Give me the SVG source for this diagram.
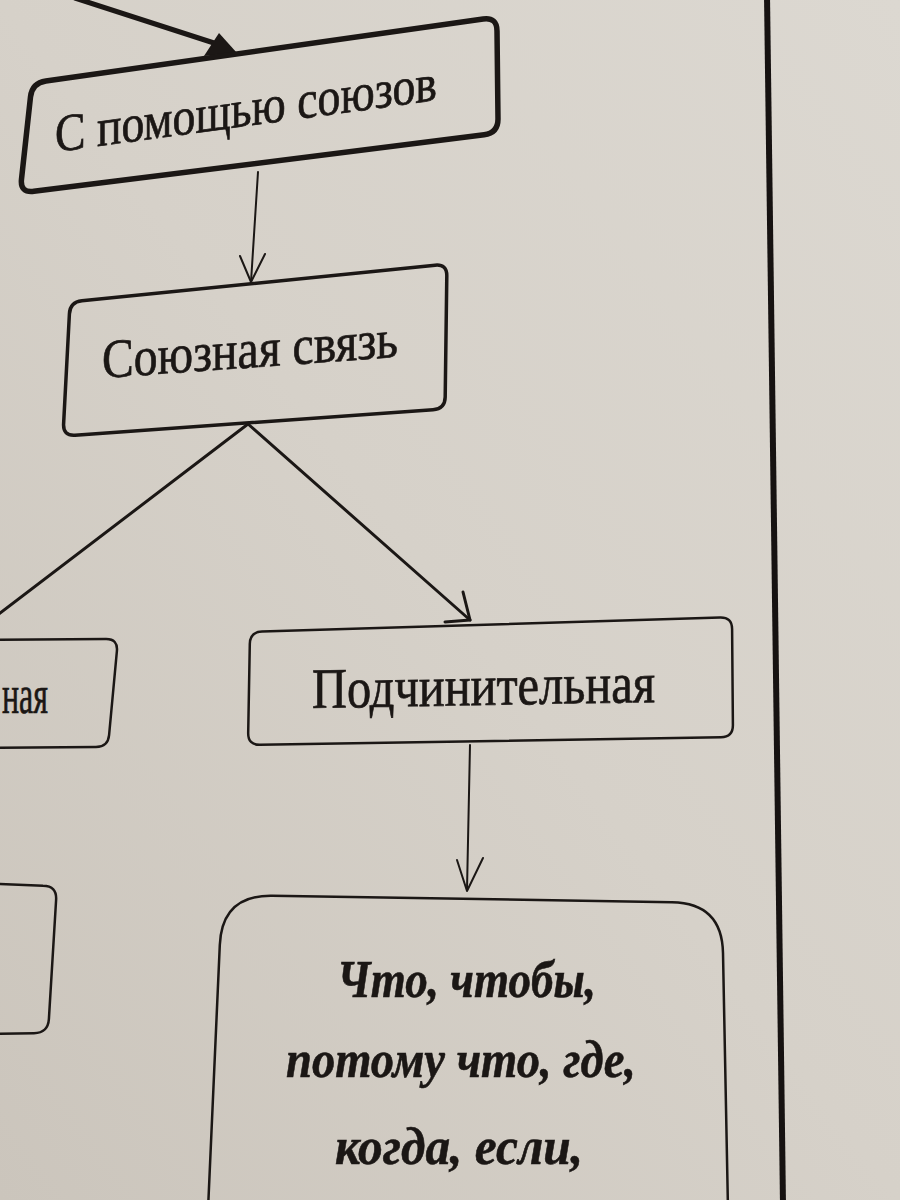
<svg xmlns="http://www.w3.org/2000/svg" width="900" height="1200" viewBox="0 0 900 1200">
  <defs>
    <linearGradient id="paper" x1="1" y1="0" x2="0" y2="1">
      <stop offset="0" stop-color="#dcd8d1"/>
      <stop offset="0.5" stop-color="#d6d1c9"/>
      <stop offset="1" stop-color="#cbc5bc"/>
    </linearGradient>
    <style>
      .box { fill: none; stroke: #1b1715; stroke-linejoin: round; }
      .lbl { font-family: "Liberation Serif", "Times New Roman", serif; fill: #1b1715; stroke: #1b1715; stroke-width: 0.7px; }
      .em { font-family: "Liberation Serif", "Times New Roman", serif; font-weight: bold; font-style: italic; fill: #1b1715; stroke: #1b1715; stroke-width: 0.6px; font-size: 53px; }
      .wire { fill: none; stroke: #1b1715; stroke-linecap: round; stroke-linejoin: round; }
    </style>
  </defs>

  <rect x="0" y="0" width="900" height="1200" fill="url(#paper)"/>

  <!-- page frame rule -->
  <line x1="767" y1="-5" x2="783" y2="1205" stroke="#161211" stroke-width="6"/>

  <g id="connectors">
    <line class="wire" x1="75" y1="-2" x2="214" y2="43" stroke-width="5"/>
    <polygon points="219,33 237,53 204,56" fill="#1b1715"/>

    <line class="wire" x1="258" y1="172" x2="251" y2="282" stroke-width="2"/>
    <polyline class="wire" points="240,256 251,282 265,254" stroke-width="2"/>

    <line class="wire" x1="248" y1="424" x2="-5" y2="617" stroke-width="3"/>

    <line class="wire" x1="248" y1="424" x2="470" y2="620" stroke-width="3"/>
    <polyline class="wire" points="445,622 470,620 463,592" stroke-width="3"/>

    <line class="wire" x1="470" y1="745" x2="467" y2="890" stroke-width="2"/>
    <polyline class="wire" points="457,860 467,891 483,858" stroke-width="2"/>
  </g>

  <g id="node-s-pomoshchyu-soyuzov">
    <path class="box" stroke-width="5.5" d="M 45.9,81 L 483.1,19 Q 497,17 497,31 L 498,119 Q 498,133 484.1,134.8 L 33.9,191.3 Q 20,193 21.5,179.1 L 30.5,96.9 Q 32,83 45.9,81 Z"/>
    <text class="lbl" font-size="53" transform="matrix(1,-0.136,0,1,55,152)" x="0" y="0" textLength="382" lengthAdjust="spacingAndGlyphs">С помощью союзов</text>
  </g>

  <g id="node-soyuznaya-svyaz">
    <path class="box" stroke-width="3.5" d="M 81.9,300.8 L 435.1,265.2 Q 447,264 446.8,276 L 445.2,397 Q 445,409 433,409.8 L 75,435.2 Q 63,436 63.6,424 L 69.4,314 Q 70,302 81.9,300.8 Z"/>
    <text class="lbl" font-size="55" transform="matrix(1,-0.071,0,1,102,378)" x="0" y="0" textLength="296" lengthAdjust="spacingAndGlyphs">Союзная связь</text>
  </g>

  <g id="node-sochinitelnaya">
    <path class="box" stroke-width="2.5" d="M -20,640 L 106,639.1 Q 118,639 116.9,651 L 109.1,735 Q 108,747 96,747.1 L -20,748"/>
    <text class="lbl" font-size="55" x="2" y="713" textLength="46" lengthAdjust="spacingAndGlyphs">ная</text>
  </g>

  <g id="node-podchinitelnaya">
    <path class="box" stroke-width="2.5" d="M 262,631.6 L 720,617.4 Q 732,617 732.1,629 L 732.9,725 Q 733,737 721,737.2 L 260,744.8 Q 248,745 248.2,733 L 249.8,644 Q 250,632 262,631.6 Z"/>
    <text class="lbl" font-size="57" transform="matrix(1,-0.0175,0,1,312,708)" x="0" y="0" textLength="343" lengthAdjust="spacingAndGlyphs">Подчинительная</text>
  </g>

  <g id="node-left-bottom">
    <path class="box" stroke-width="2.5" d="M -20,883 L 43,885.8 Q 57,886 56.1,900 L 48.9,1019 Q 48,1033 34,1033.2 L -20,1034"/>
  </g>

  <g id="node-podchinitelnye-soyuzy">
    <path class="box" stroke-width="2.5" d="M 208,1210 L 219.8,945 Q 222,895 272,895.8 L 672,902.2 Q 722,903 723,953 L 728,1210"/>
    <text class="em" x="337" y="997" textLength="259" lengthAdjust="spacingAndGlyphs">Что, чтобы,</text>
    <text class="em" x="286" y="1077" textLength="350" lengthAdjust="spacingAndGlyphs">потому что, где,</text>
    <text class="em" x="335" y="1164" textLength="248" lengthAdjust="spacingAndGlyphs">когда, если,</text>
  </g>
</svg>
